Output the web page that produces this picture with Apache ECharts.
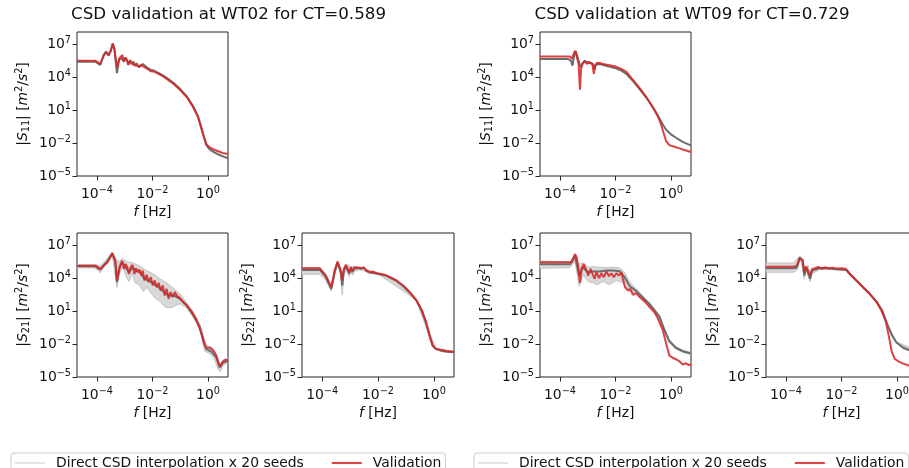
<!DOCTYPE html>
<html>
<head>
<meta charset="utf-8">
<script src="https://cdn.jsdelivr.net/npm/echarts@6/dist/echarts.min.js"></script>
<style>
  html, body { margin: 0; padding: 0; background: #ffffff; }
  #chart { width: 909px; height: 468px; }
</style>
</head>
<body>
<div id="chart"></div>
<script>
// Cross-spectral densities, stored as [log10 f [Hz], log10 |S| [m^2/s^2]] pairs.

// ---- WT02, CT = 0.589 ----
const wt02S11Validation = [[-4.72,5.49],[-4.06,5.49],[-3.88,5.19],[-3.76,5.95],[-3.67,6.25],[-3.58,5.95],[-3.50,6.46],[-3.43,7.06],[-3.37,6.55],[-3.31,5.34],[-3.27,4.89],[-3.21,5.64],[-3.15,5.73],[-3.09,6.01],[-3.03,5.43],[-2.98,5.80],[-2.92,5.55],[-2.87,5.10],[-2.81,5.55],[-2.75,5.25],[-2.69,5.43],[-2.63,5.04],[-2.57,5.25],[-2.49,4.89],[-2.42,5.10],[-2.35,5.19],[-2.28,4.89],[-2.18,4.74],[-2.06,4.53],[-1.95,4.50],[-1.83,4.35],[-1.67,4.14],[-1.49,3.84],[-1.25,3.39],[-1.01,2.84],[-0.77,2.18],[-0.54,1.28],[-0.36,0.37],[-0.24,-0.68],[-0.15,-1.43],[-0.06,-2.10],[0.06,-2.40],[0.24,-2.64],[0.42,-2.79],[0.56,-2.94],[0.72,-3.00]];
const wt02S11Seeds = [[-4.72,5.40],[-4.06,5.40],[-3.88,5.10],[-3.76,6.01],[-3.67,6.31],[-3.58,6.01],[-3.50,6.40],[-3.43,7.06],[-3.37,6.49],[-3.28,4.35],[-3.21,5.49],[-3.15,5.80],[-3.09,5.95],[-3.03,5.40],[-2.98,5.73],[-2.92,5.49],[-2.87,5.13],[-2.81,5.49],[-2.75,5.19],[-2.69,5.40],[-2.63,5.10],[-2.57,5.28],[-2.47,4.95],[-2.35,5.19],[-2.21,4.89],[-2.06,4.65],[-1.95,4.59],[-1.67,4.23],[-1.49,3.93],[-1.25,3.48],[-1.01,2.93],[-0.77,2.27],[-0.54,1.37],[-0.36,0.43],[-0.24,-0.59],[-0.15,-1.43],[-0.06,-2.19],[0.06,-2.58],[0.24,-2.88],[0.42,-3.09],[0.56,-3.24],[0.72,-3.39]];

const wt02S21Validation = [[-4.72,5.13],[-4.06,5.13],[-3.88,4.83],[-3.74,5.19],[-3.62,5.43],[-3.52,5.89],[-3.45,6.28],[-3.40,6.10],[-3.34,5.58],[-3.28,3.78],[-3.22,4.53],[-3.16,5.19],[-3.09,5.58],[-3.03,4.83],[-2.97,5.28],[-2.91,4.98],[-2.85,4.38],[-2.79,4.98],[-2.72,5.19],[-2.65,4.38],[-2.59,4.89],[-2.53,4.53],[-2.47,4.77],[-2.41,4.23],[-2.35,4.68],[-2.29,3.78],[-2.21,4.29],[-2.14,3.63],[-2.06,4.08],[-1.99,3.33],[-1.92,3.78],[-1.85,3.17],[-1.78,3.57],[-1.71,2.87],[-1.63,3.33],[-1.56,2.42],[-1.49,3.02],[-1.42,2.12],[-1.35,2.72],[-1.28,2.27],[-1.20,2.72],[-1.11,2.36],[-1.01,2.18],[-0.92,1.88],[-0.77,1.52],[-0.60,0.98],[-0.44,0.31],[-0.32,-0.44],[-0.22,-1.19],[-0.15,-1.86],[-0.08,-2.31],[-0.01,-2.16],[0.09,-2.34],[0.21,-2.64],[0.30,-3.06],[0.38,-3.75],[0.44,-4.05],[0.52,-3.66],[0.61,-3.45],[0.72,-3.42]];
const wt02S21Seeds = [[-4.72,5.07],[-4.06,5.07],[-3.88,4.77],[-3.64,5.49],[-3.45,6.22],[-3.34,5.49],[-3.28,3.63],[-3.19,4.98],[-3.09,5.43],[-2.97,4.98],[-2.85,4.53],[-2.72,4.98],[-2.59,4.68],[-2.45,4.53],[-2.29,3.93],[-2.14,3.78],[-1.97,3.48],[-1.78,3.17],[-1.61,2.78],[-1.43,2.42],[-1.25,2.42],[-1.01,2.12],[-0.77,1.52],[-0.54,0.67],[-0.30,-0.44],[-0.15,-1.80],[-0.06,-2.46],[0.12,-2.70],[0.30,-3.24],[0.42,-4.14],[0.54,-3.69],[0.72,-3.54]];
const wt02S21SeedsHigh = [[-4.72,5.22],[-4.06,5.22],[-3.88,5.13],[-3.64,5.73],[-3.45,6.34],[-3.31,5.73],[-3.19,5.49],[-3.09,5.80],[-2.92,5.49],[-2.69,5.37],[-2.45,5.07],[-2.21,4.68],[-1.97,4.38],[-1.73,3.93],[-1.49,3.57],[-1.25,3.08],[-1.01,2.57],[-0.77,1.76],[-0.54,0.98],[-0.30,-0.14],[-0.15,-1.43],[-0.06,-2.10],[0.12,-2.34],[0.30,-2.94],[0.42,-3.90],[0.54,-3.45],[0.72,-3.24]];
const wt02S21SeedsLow = [[-4.72,4.92],[-4.06,4.92],[-3.88,4.47],[-3.70,5.19],[-3.45,6.04],[-3.28,3.17],[-3.19,4.38],[-3.07,5.07],[-2.97,4.23],[-2.85,3.69],[-2.73,4.47],[-2.63,3.57],[-2.47,3.39],[-2.33,2.78],[-2.21,3.17],[-2.03,2.57],[-1.91,2.18],[-1.73,1.88],[-1.55,1.37],[-1.37,1.28],[-1.19,1.46],[-1.01,1.67],[-0.77,1.28],[-0.54,0.46],[-0.30,-0.59],[-0.12,-2.64],[0.04,-2.85],[0.21,-3.24],[0.36,-4.27],[0.44,-4.51],[0.54,-3.96],[0.72,-3.66]];

const wt02S22Validation = [[-4.72,4.89],[-4.08,4.89],[-3.87,4.23],[-3.67,3.17],[-3.55,4.68],[-3.45,5.49],[-3.39,5.37],[-3.33,4.68],[-3.28,3.78],[-3.22,4.83],[-3.15,5.19],[-3.09,5.13],[-3.03,4.53],[-2.97,4.98],[-2.91,4.68],[-2.84,4.98],[-2.77,4.83],[-2.67,4.95],[-2.59,4.89],[-2.51,4.98],[-2.41,4.68],[-2.29,4.53],[-2.17,4.59],[-2.05,4.44],[-1.87,4.38],[-1.69,4.23],[-1.51,4.02],[-1.34,3.78],[-1.10,3.33],[-0.86,2.72],[-0.62,1.97],[-0.44,1.13],[-0.28,0.01],[-0.14,-1.34],[-0.05,-2.10],[0.07,-2.40],[0.22,-2.52],[0.45,-2.64],[0.72,-2.70]];
const wt02S22Seeds = [[-4.72,4.74],[-4.08,4.74],[-3.87,4.10],[-3.67,3.02],[-3.55,4.60],[-3.45,5.43],[-3.39,5.30],[-3.33,4.50],[-3.28,3.30],[-3.22,4.70],[-3.15,5.10],[-3.09,5.05],[-3.03,4.40],[-2.97,4.90],[-2.91,4.55],[-2.84,4.90],[-2.77,4.75],[-2.67,4.90],[-2.59,4.85],[-2.51,4.95],[-2.41,4.65],[-2.29,4.50],[-2.05,4.41],[-1.69,4.20],[-1.34,3.74],[-1.10,3.28],[-0.86,2.67],[-0.62,1.92],[-0.44,1.08],[-0.28,-0.05],[-0.14,-1.38],[-0.05,-2.14],[0.07,-2.46],[0.22,-2.58],[0.45,-2.70],[0.72,-2.74]];
const wt02S22SeedsHigh = [[-4.72,4.95],[-4.08,4.95],[-3.87,4.35],[-3.67,3.30],[-3.45,5.60],[-3.33,4.80],[-3.28,4.00],[-3.15,5.25],[-2.97,5.05],[-2.59,4.95],[-2.05,4.46],[-0.62,2.00],[0.07,-2.38],[0.72,-2.68]];
const wt02S22SeedsLow = [[-4.72,4.35],[-4.08,4.35],[-3.87,3.80],[-3.67,2.80],[-3.55,4.30],[-3.45,5.20],[-3.39,5.00],[-3.33,4.10],[-3.28,2.45],[-3.22,4.30],[-3.15,4.85],[-3.09,4.75],[-3.03,4.10],[-2.97,4.60],[-2.91,4.25],[-2.84,4.70],[-2.77,4.55],[-2.67,4.75],[-2.59,4.75],[-2.41,4.55],[-2.05,4.35],[-1.34,3.70],[-0.62,1.88],[-0.14,-1.42],[0.07,-2.50],[0.72,-2.78]];

// ---- WT09, CT = 0.729 ----
const wt09S11Validation = [[-4.72,5.86],[-3.64,5.86],[-3.57,5.67],[-3.50,6.16],[-3.45,6.40],[-3.38,6.40],[-3.33,5.19],[-3.28,2.84],[-3.24,4.74],[-3.19,5.19],[-3.13,5.43],[-3.07,5.55],[-3.02,5.19],[-2.97,5.40],[-2.90,5.34],[-2.83,5.13],[-2.78,4.29],[-2.73,5.04],[-2.66,5.31],[-2.57,5.28],[-2.45,5.19],[-2.27,5.10],[-2.03,4.98],[-1.79,4.74],[-1.61,4.47],[-1.37,3.75],[-1.13,2.99],[-0.89,2.18],[-0.66,1.28],[-0.48,0.46],[-0.36,-0.29],[-0.27,-1.07],[-0.18,-1.80],[-0.06,-2.19],[0.12,-2.34],[0.30,-2.49],[0.48,-2.64],[0.69,-2.79],[0.72,-2.80]];
const wt09S11Seeds = [[-4.72,5.64],[-3.70,5.64],[-3.61,5.49],[-3.55,5.04],[-3.48,6.10],[-3.43,6.34],[-3.37,6.25],[-3.31,5.34],[-3.26,4.89],[-3.19,5.25],[-3.10,5.49],[-2.98,5.25],[-2.90,5.31],[-2.81,5.19],[-2.76,4.74],[-2.71,5.13],[-2.57,5.19],[-2.27,4.98],[-2.03,4.83],[-1.79,4.59],[-1.61,4.29],[-1.37,3.63],[-1.13,2.90],[-0.89,2.12],[-0.66,1.28],[-0.48,0.52],[-0.32,-0.23],[-0.18,-0.77],[0.00,-1.22],[0.18,-1.52],[0.42,-1.89],[0.69,-2.19],[0.72,-2.20]];

const wt09S21Validation = [[-4.72,5.43],[-3.58,5.43],[-3.52,5.49],[-3.46,6.19],[-3.40,5.89],[-3.34,4.98],[-3.28,3.57],[-3.22,4.83],[-3.14,5.28],[-3.07,5.19],[-2.98,4.23],[-2.90,4.83],[-2.83,4.38],[-2.75,3.93],[-2.69,4.53],[-2.59,3.99],[-2.51,4.44],[-2.42,4.08],[-2.33,4.59],[-2.23,4.17],[-2.15,4.44],[-2.06,4.08],[-1.97,4.44],[-1.87,4.23],[-1.79,4.53],[-1.72,4.47],[-1.66,3.17],[-1.55,2.87],[-1.47,3.02],[-1.37,2.48],[-1.25,2.63],[-1.13,2.27],[-0.95,1.88],[-0.77,1.37],[-0.59,0.85],[-0.48,0.36],[-0.30,-0.70],[-0.18,-1.90],[-0.06,-3.05],[0.06,-3.25],[0.12,-3.40],[0.22,-3.45],[0.30,-3.56],[0.36,-3.70],[0.42,-3.86],[0.48,-3.72],[0.54,-3.75],[0.62,-3.90],[0.68,-3.80],[0.72,-3.86]];
const wt09S21Seeds = [[-4.72,5.25],[-3.64,5.25],[-3.46,5.98],[-3.31,4.23],[-3.19,4.98],[-2.98,4.53],[-2.81,4.59],[-2.57,4.59],[-2.33,4.68],[-2.09,4.68],[-1.85,4.62],[-1.67,4.08],[-1.49,3.27],[-1.25,2.81],[-0.78,1.65],[-0.42,0.51],[-0.24,-0.70],[-0.06,-1.75],[0.18,-2.35],[0.42,-2.65],[0.72,-2.86]];
const wt09S21SeedsHigh = [[-4.72,5.55],[-3.64,5.49],[-3.46,6.13],[-3.31,5.28],[-3.16,5.37],[-2.98,4.98],[-2.81,5.04],[-2.57,4.98],[-2.33,4.95],[-2.09,4.98],[-1.85,4.92],[-1.67,4.53],[-1.49,3.63],[-1.25,3.02],[-0.78,1.75],[-0.42,0.62],[-0.24,-0.55],[-0.06,-1.60],[0.18,-2.22],[0.42,-2.55],[0.72,-2.78]];
const wt09S21SeedsLow = [[-4.72,4.89],[-3.64,4.95],[-3.46,5.58],[-3.31,3.27],[-3.16,4.29],[-2.98,3.69],[-2.81,3.57],[-2.66,3.39],[-2.45,3.69],[-2.21,3.39],[-1.97,3.78],[-1.73,3.57],[-1.49,2.78],[-1.25,2.57],[-0.78,1.55],[-0.42,0.40],[-0.24,-0.82],[-0.06,-1.88],[0.18,-2.48],[0.42,-2.76],[0.72,-2.95]];

const wt09S22Validation = [[-4.72,5.04],[-3.73,5.04],[-3.61,5.13],[-3.51,5.73],[-3.46,5.89],[-3.40,5.67],[-3.34,4.53],[-3.28,5.07],[-3.21,5.19],[-3.13,4.23],[-3.06,4.83],[-2.95,4.89],[-2.83,5.01],[-2.71,4.83],[-2.59,4.98],[-2.47,4.89],[-2.32,4.95],[-2.17,4.86],[-1.99,4.89],[-1.84,4.83],[-1.69,4.38],[-1.46,3.78],[-1.22,3.17],[-0.98,2.57],[-0.74,1.82],[-0.56,1.07],[-0.40,0.01],[-0.28,-1.49],[-0.19,-2.70],[-0.08,-3.36],[0.07,-3.60],[0.22,-3.78],[0.42,-3.96],[0.58,-3.90],[0.72,-3.95]];
const wt09S22Seeds = [[-4.72,4.89],[-3.73,4.89],[-3.61,4.95],[-3.51,5.89],[-3.46,5.98],[-3.40,5.58],[-3.34,4.23],[-3.27,4.98],[-3.21,5.07],[-3.13,3.93],[-3.06,4.68],[-2.95,4.77],[-2.77,4.92],[-2.53,4.89],[-2.17,4.80],[-1.84,4.74],[-1.69,4.32],[-1.46,3.75],[-1.22,3.14],[-0.98,2.54],[-0.74,1.88],[-0.52,0.98],[-0.36,-0.14],[-0.20,-1.13],[-0.02,-1.86],[0.22,-2.34],[0.42,-2.55],[0.72,-2.65]];
const wt09S22SeedsHigh = [[-4.72,5.37],[-3.73,5.37],[-3.51,5.95],[-3.46,6.10],[-3.34,4.75],[-3.21,5.20],[-3.13,4.50],[-2.95,4.95],[-2.53,4.95],[-1.84,4.80],[-0.74,1.95],[-0.36,-0.05],[-0.02,-1.80],[0.72,-2.60]];
const wt09S22SeedsLow = [[-4.72,4.53],[-3.73,4.53],[-3.61,4.70],[-3.51,5.50],[-3.46,5.70],[-3.34,3.95],[-3.27,4.70],[-3.21,4.85],[-3.13,3.65],[-3.06,4.40],[-2.95,4.55],[-2.77,4.80],[-2.53,4.80],[-1.84,4.70],[-0.74,1.82],[-0.36,-0.20],[-0.02,-1.92],[0.72,-2.70]];

// Axis extents and tick positions (decades).
const xRange = [-4.72, 0.72];
const yRange = [-5, 8.1];
const xTicks = [-4, -2, 0];
const yTicks = [-5, -2, 1, 4, 7];

const titles = ['CSD validation at WT02 for CT=0.589', 'CSD validation at WT09 for CT=0.729'];
const seedName = 'Direct CSD interpolation x 20 seeds';
const validationName = 'Validation';

// ---- layout and styling ----
const FONT = 'DejaVu Sans';
const INK = '#111111';
const SPINE = '#262626';
const RED = '#d62728';

const panels = [
  { box: [77, 32, 151, 144], sub: '11', val: wt02S11Validation, seeds: wt02S11Seeds },
  { box: [77, 233, 151, 144], sub: '21', val: wt02S21Validation, seeds: wt02S21Seeds, hi: wt02S21SeedsHigh, lo: wt02S21SeedsLow },
  { box: [302, 233, 152, 144], sub: '22', val: wt02S22Validation, seeds: wt02S22Seeds, hi: wt02S22SeedsHigh, lo: wt02S22SeedsLow },
  { box: [540, 32, 151, 144], sub: '11', val: wt09S11Validation, seeds: wt09S11Seeds },
  { box: [540, 233, 151, 144], sub: '21', val: wt09S21Validation, seeds: wt09S21Seeds, hi: wt09S21SeedsHigh, lo: wt09S21SeedsLow },
  { box: [766, 233, 151, 144], sub: '22', val: wt09S22Validation, seeds: wt09S22Seeds, hi: wt09S22SeedsHigh, lo: wt09S22SeedsLow }
];

function powerLabel(v) {
  const e = (v < 0 ? '\u2212' : '') + Math.abs(v);
  return '{b|10}{e|' + e + '}';
}
const tickRich = {
  b: { fontFamily: FONT, fontSize: 13.9, lineHeight: 17, color: INK, verticalAlign: 'middle' },
  e: { fontFamily: FONT, fontSize: 9.7, lineHeight: 8, color: INK, verticalAlign: 'top' }
};
const nameRich = {
  i: { fontFamily: FONT, fontSize: 13.9, lineHeight: 17, fontStyle: 'italic', color: INK, verticalAlign: 'middle' },
  r: { fontFamily: FONT, fontSize: 13.9, lineHeight: 17, color: INK, verticalAlign: 'middle' },
  sub: { fontFamily: FONT, fontSize: 9.7, lineHeight: 11, color: INK, verticalAlign: 'bottom' },
  sup: { fontFamily: FONT, fontSize: 9.7, lineHeight: 8, color: INK, verticalAlign: 'top' }
};
const nameStyle = { fontFamily: FONT, fontSize: 13.9, lineHeight: 17, color: INK, rich: nameRich };

const grids = [], xAxes = [], yAxes = [], series = [];

panels.forEach((p, k) => {
  grids.push({
    left: p.box[0], top: p.box[1], width: p.box[2], height: p.box[3],
    show: true, borderColor: SPINE, borderWidth: 1, backgroundColor: 'transparent',
    containLabel: false, outerBoundsMode: 'none'
  });
  xAxes.push({
    type: 'value', gridIndex: k, min: xRange[0], max: xRange[1],
    axisLine: { show: false, onZero: false },
    splitLine: { show: false },
    axisTick: { show: true, length: 4.5, customValues: xTicks, lineStyle: { color: SPINE, width: 1 } },
    axisLabel: { show: true, margin: 9.5, customValues: xTicks, formatter: powerLabel, rich: tickRich },
    name: '{i|f}{r| [Hz]}', nameLocation: 'middle', nameGap: 28, nameTextStyle: nameStyle
  });
  yAxes.push({
    type: 'value', gridIndex: k, min: yRange[0], max: yRange[1],
    axisLine: { show: false, onZero: false },
    splitLine: { show: false },
    axisTick: { show: true, length: 4.5, customValues: yTicks, lineStyle: { color: SPINE, width: 1 } },
    axisLabel: { show: true, margin: 6, customValues: yTicks, formatter: powerLabel, rich: tickRich },
    name: '{r||}{i|S}{sub|' + p.sub + '}{r|| [}{i|m}{sup|2}{r|/}{i|s}{sup|2}{r|]}',
    nameLocation: 'middle', nameRotate: 90, nameGap: 45.5, nameTextStyle: nameStyle
  });

  // spread of the 20 seeds
  if (p.hi && p.lo) {
    const ring = p.hi.concat(p.lo.slice().reverse());
    series.push({
      type: 'custom', name: seedName, xAxisIndex: k, yAxisIndex: k, silent: true, clip: true, z: 1,
      data: [ring[0]],
      renderItem: (params, api) => ({
        type: 'polygon',
        shape: { points: ring.map(pt => api.coord(pt)) },
        style: { fill: '#d8d8d8', stroke: null }
      })
    });
    [p.hi, p.lo].forEach(edge => series.push({
      type: 'line', name: seedName, xAxisIndex: k, yAxisIndex: k, data: edge,
      showSymbol: false, symbol: 'none', silent: true, z: 2,
      lineStyle: { color: '#c2c2c2', width: 1 }, itemStyle: { color: '#c2c2c2' }
    }));
  }
  series.push({
    type: 'line', name: seedName, xAxisIndex: k, yAxisIndex: k, data: p.seeds,
    showSymbol: false, symbol: 'none', silent: true, z: 3,
    lineStyle: { color: '#6c6c6c', width: 2 }, itemStyle: { color: '#6c6c6c' }
  });
  series.push({
    type: 'line', name: validationName, xAxisIndex: k, yAxisIndex: k, data: p.val,
    showSymbol: false, symbol: 'none', silent: true, z: 4,
    lineStyle: { color: RED, width: 2, opacity: 0.88 }, itemStyle: { color: RED }
  });
});

const lineIcon = 'path://M0,0H30V2.1H0Z';
const legends = [11, 474].map(x => ({
  left: x, top: 453, orient: 'horizontal',
  itemWidth: 30, itemHeight: 14, itemGap: 28,
  padding: [3, 4, 3, 4],
  borderColor: '#cccccc', borderWidth: 1, borderRadius: 3,
  backgroundColor: 'rgba(255,255,255,0.8)',
  selectedMode: false,
  data: [
    { name: seedName, icon: lineIcon, itemStyle: { color: '#e4e4e4', borderWidth: 0, opacity: 1 } },
    { name: validationName, icon: lineIcon, itemStyle: { color: '#dc4445', borderWidth: 0, opacity: 1 } }
  ],
  formatter: n => '{t|' + n + '}',
  textStyle: { fontFamily: FONT, fontSize: 13.9, color: INK,
    rich: { t: { fontFamily: FONT, fontSize: 13.9, color: INK, padding: [0, 0, 0, 6] } } }
}));

const titleGraphics = [[228.5, titles[0]], [692, titles[1]]].map(([x, text]) => ({
  type: 'text', x: x, y: 15,
  style: { text: text, font: '16.7px "DejaVu Sans"', fill: INK, textAlign: 'center', textVerticalAlign: 'middle' }
}));

const chart = echarts.init(document.getElementById('chart'), null, { renderer: 'canvas' });
chart.setOption({
  animation: false,
  backgroundColor: '#ffffff',
  grid: grids,
  xAxis: xAxes,
  yAxis: yAxes,
  legend: legends,
  graphic: titleGraphics,
  series: series
});
</script>
</body>
</html>
